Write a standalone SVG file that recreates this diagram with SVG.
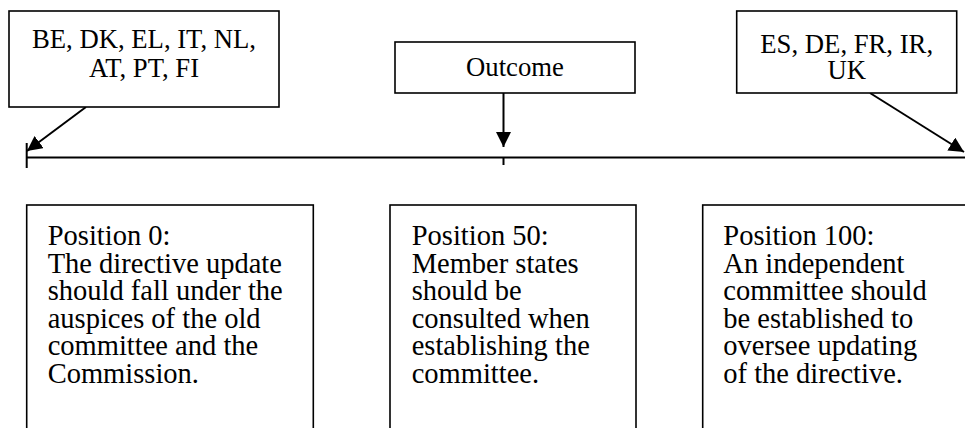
<svg xmlns="http://www.w3.org/2000/svg" width="965" height="428" viewBox="0 0 965 428">
<defs>
<style>
.box{fill:#fff;stroke:#000;stroke-width:1.6}
.t{font-family:"Liberation Serif","Times New Roman",serif;fill:#000}
.top{font-size:26.7px;text-anchor:middle}
.pos{font-size:28.5px}
.ln{stroke:#000;stroke-width:2;fill:none}
</style>
<marker id="ah" markerUnits="userSpaceOnUse" markerWidth="16" markerHeight="16" refX="15" refY="7.5" orient="auto" viewBox="0 0 16 16">
<path d="M0,0 L15,7.5 L0,15 z" fill="#000"/>
</marker>
</defs>
<rect width="965" height="428" fill="#fff"/>
<g id="connectors">
<line class="ln" x1="26.7" y1="157.5" x2="966" y2="157.5"/>
<line class="ln" x1="26.7" y1="143" x2="26.7" y2="168"/>
<line class="ln" x1="503.5" y1="157" x2="503.5" y2="165"/>
<line class="ln" x1="86" y1="107" x2="27" y2="151" marker-end="url(#ah)"/>
<line class="ln" x1="503.5" y1="93" x2="503.5" y2="147" marker-end="url(#ah)"/>
<line class="ln" x1="870" y1="93" x2="964" y2="152" marker-end="url(#ah)"/>
</g>
<g id="group-left">
<rect class="box" x="9" y="11" width="270" height="96"/>
<text class="t top" x="144" y="47.7">BE, DK, EL, IT, NL,</text>
<text class="t top" x="144" y="76.7">AT, PT, FI</text>
</g>
<g id="outcome">
<rect class="box" x="395" y="42" width="240" height="51"/>
<text class="t top" x="515" y="76">Outcome</text>
</g>
<g id="group-right">
<rect class="box" x="736.7" y="11" width="220" height="82"/>
<text class="t top" x="846.7" y="53">ES, DE, FR, IR,</text>
<text class="t top" x="846.7" y="78.5">UK</text>
</g>
<g id="position-0">
<rect class="box" x="26.7" y="205" width="286.6" height="240"/>
<text class="t pos" x="47.7" y="245">Position 0:</text>
<text class="t pos" x="47.7" y="272.6">The directive update</text>
<text class="t pos" x="47.7" y="300.2">should fall under the</text>
<text class="t pos" x="47.7" y="327.8">auspices of the old</text>
<text class="t pos" x="47.7" y="355.4">committee and the</text>
<text class="t pos" x="47.7" y="383">Commission.</text>
</g>
<g id="position-50">
<rect class="box" x="390" y="205" width="246" height="240"/>
<text class="t pos" x="411.7" y="245">Position 50:</text>
<text class="t pos" x="411.7" y="272.6">Member states</text>
<text class="t pos" x="411.7" y="300.2">should be</text>
<text class="t pos" x="411.7" y="327.8">consulted when</text>
<text class="t pos" x="411.7" y="355.4">establishing the</text>
<text class="t pos" x="411.7" y="383">committee.</text>
</g>
<g id="position-100">
<rect class="box" x="702.7" y="205" width="290" height="240"/>
<text class="t pos" x="723.3" y="245">Position 100:</text>
<text class="t pos" x="723.3" y="272.6">An independent</text>
<text class="t pos" x="723.3" y="300.2">committee should</text>
<text class="t pos" x="723.3" y="327.8">be established to</text>
<text class="t pos" x="723.3" y="355.4">oversee updating</text>
<text class="t pos" x="723.3" y="383">of the directive.</text>
</g>
</svg>
